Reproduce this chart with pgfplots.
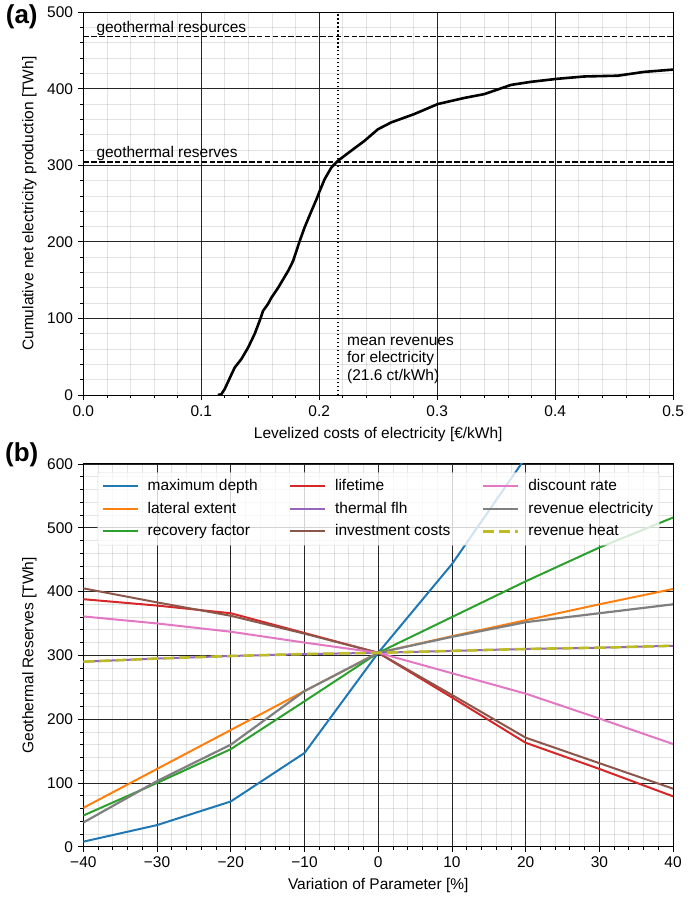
\documentclass[border=0pt]{standalone}
\usepackage{fontspec}
\setmainfont{Liberation Sans}
\usepackage{pgfplots}
\pgfplotsset{compat=1.18}

\definecolor{tabblue}{HTML}{1F77B4}
\definecolor{taborange}{HTML}{FF7F0E}
\definecolor{tabgreen}{HTML}{2CA02C}
\definecolor{tabred}{HTML}{D62728}
\definecolor{tabpurple}{HTML}{9467BD}
\definecolor{tabbrown}{HTML}{8C564B}
\definecolor{tabpink}{HTML}{E377C2}
\definecolor{tabgray}{HTML}{7F7F7F}
\definecolor{tabolive}{HTML}{BCBD22}

\pgfplotsset{
  panel/.style={
    scale only axis,
    width=590.6pt, height=383.4pt,
    anchor=south west,
    /pgf/number format/assume math mode=true,
    tick label style={font=\fontsize{15.5}{18}\selectfont},
    label style={font=\fontsize{15.5}{18}\selectfont},
    tick pos=left,
    tick align=outside,
    major tick length=5pt,
    minor tick length=3pt,
    tick style={black, line width=0.8pt},
    axis line style={black, line width=0.9pt},
    grid=both,
    major grid style={black!85, line width=0.8pt},
    minor grid style={black, opacity=0.11, line width=0.8pt},
    minor x tick num=4,
    minor y tick num=4,
  }
}

\begin{document}
\fontsize{15.5}{18}\selectfont
\begin{tikzpicture}
\path (0pt,0pt) rectangle (685pt,899pt);

% (a) cumulative production over LCOE
\begin{axis}[panel,
  at={(81.7pt,504.7pt)},
  xmin=0, xmax=0.5, ymin=0, ymax=500,
  xtick={0,0.1,0.2,0.3,0.4,0.5},
  xticklabels={0.0,0.1,0.2,0.3,0.4,0.5},
  ytick={0,100,200,300,400,500},
  xlabel={Levelized costs of electricity [€/kWh]},
  ylabel={Cumulative net electricity production [TWh]},
]
\addplot[black, line width=1.6pt, dash pattern=on 5.5pt off 2.4pt] coordinates {(0,468) (0.5,468)};
\addplot[black, line width=1.6pt, dash pattern=on 5.5pt off 2.4pt] coordinates {(0,304) (0.5,304)};
\addplot[black, line width=1.5pt, dash pattern=on 1.5pt off 2.5pt] coordinates {(0.216,0) (0.216,500)};
\addplot[black, line width=2.6pt, line join=round] coordinates {
  (0.114,0) (0.117,1) (0.1199,8) (0.1256,27) (0.1284,36) (0.134,47)
  (0.1397,62) (0.1453,80) (0.1495,97) (0.1524,110) (0.1566,119)
  (0.1594,127) (0.1651,140) (0.1736,162) (0.1778,175) (0.1834,201)
  (0.1876,219) (0.1933,240) (0.1975,255) (0.2,265) (0.2046,282)
  (0.2102,297) (0.2159,306) (0.2271,319) (0.2384,332) (0.2497,347)
  (0.261,356) (0.2807,367) (0.3005,380) (0.3231,388) (0.34,393)
  (0.3626,405) (0.3795,409) (0.4021,413) (0.4247,416) (0.453,417)
  (0.4755,422) (0.5,425)
};
\node[anchor=base west, inner sep=0pt] at (axis cs:0.011,474) {geothermal resources};
\node[anchor=base west, inner sep=0pt] at (axis cs:0.011,310) {geothermal reserves};
\node[anchor=north west, inner sep=0pt, align=left,
  font=\fontsize{15.5}{17.5}\selectfont] at (axis cs:0.2235,76)
  {mean revenues\\for electricity\\(21.6 ct/kWh)};
\end{axis}

% (b) sensitivity of reserves
\begin{axis}[panel,
  at={(81.7pt,52.3pt)},
  xmin=-40, xmax=40, ymin=0, ymax=600,
  xtick={-40,-30,-20,-10,0,10,20,30,40},
  xticklabels={−40,−30,−20,−10,0,10,20,30,40},
  ytick={0,100,200,300,400,500,600},
  xlabel={Variation of Parameter [\%]},
  ylabel={Geothermal Reserves [TWh]},
  legend columns=3,
  transpose legend,
  legend cell align=left,
  legend image code/.code={\draw[#1] (0pt,0pt) -- (35pt,0pt);},
  legend style={at={(0.024,0.978)}, anchor=north west,
    draw=black!15, rounded corners=2pt, fill=white,
    fill opacity=0.8, text opacity=1, draw opacity=1,
    font=\fontsize{15.5}{18}\selectfont,
    /tikz/every odd column/.append style={column sep=7pt},
    /tikz/every even column/.append style={column sep=29.5pt},
    row sep=5pt, inner xsep=4pt, inner ysep=5pt},
]
\addplot[tabblue, line width=2pt] coordinates {
  (-40,8) (-30,34) (-20,71) (-10,147) (0,304) (10,443) (20,610)};
\addlegendentry{maximum depth}
\addplot[taborange, line width=2pt] coordinates {
  (-40,61) (-30,122) (-20,183) (-10,244) (0,304) (10,330) (20,355) (30,380) (40,404)};
\addlegendentry{lateral extent}
\addplot[tabgreen, line width=2pt] coordinates {
  (-40,49) (-30,100) (-20,153) (-10,228) (0,304) (10,360) (20,416) (30,469) (40,516)};
\addlegendentry{recovery factor}
\addplot[tabred, line width=2pt] coordinates {
  (-40,388) (-30,378) (-20,366) (-10,335) (0,304) (10,234) (20,163) (30,122) (40,79)};
\addlegendentry{lifetime}
\addplot[tabpurple, line width=2pt] coordinates {
  (-40,290) (-30,295) (-20,299) (-10,302) (0,304) (10,307) (20,310) (30,312) (40,315)};
\addlegendentry{thermal flh}
\addplot[tabbrown, line width=2pt] coordinates {
  (-40,405) (-30,383) (-20,362) (-10,334) (0,304) (10,238) (20,171) (30,131) (40,91)};
\addlegendentry{investment costs}
\addplot[tabpink, line width=2pt] coordinates {
  (-40,361) (-30,350) (-20,337) (-10,320) (0,304) (10,272) (20,240) (30,201) (40,161)};
\addlegendentry{discount rate}
\addplot[tabgray, line width=2.2pt] coordinates {
  (-40,38) (-30,103) (-20,160) (-10,244) (0,304) (10,329) (20,352) (30,366) (40,380)};
\addlegendentry{revenue electricity}
\addplot[tabolive, line width=2.6pt, dash pattern=on 11pt off 5pt] coordinates {
  (-40,290) (-30,295) (-20,299) (-10,302) (0,304) (10,307) (20,310) (30,312) (40,315)};
\addlegendentry{revenue heat}
\end{axis}

\node[font=\bfseries\fontsize{26}{26}\selectfont] at (20pt,883pt) {(a)};
\node[font=\bfseries\fontsize{26}{26}\selectfont] at (20pt,445pt) {(b)};
\end{tikzpicture}
\end{document}
